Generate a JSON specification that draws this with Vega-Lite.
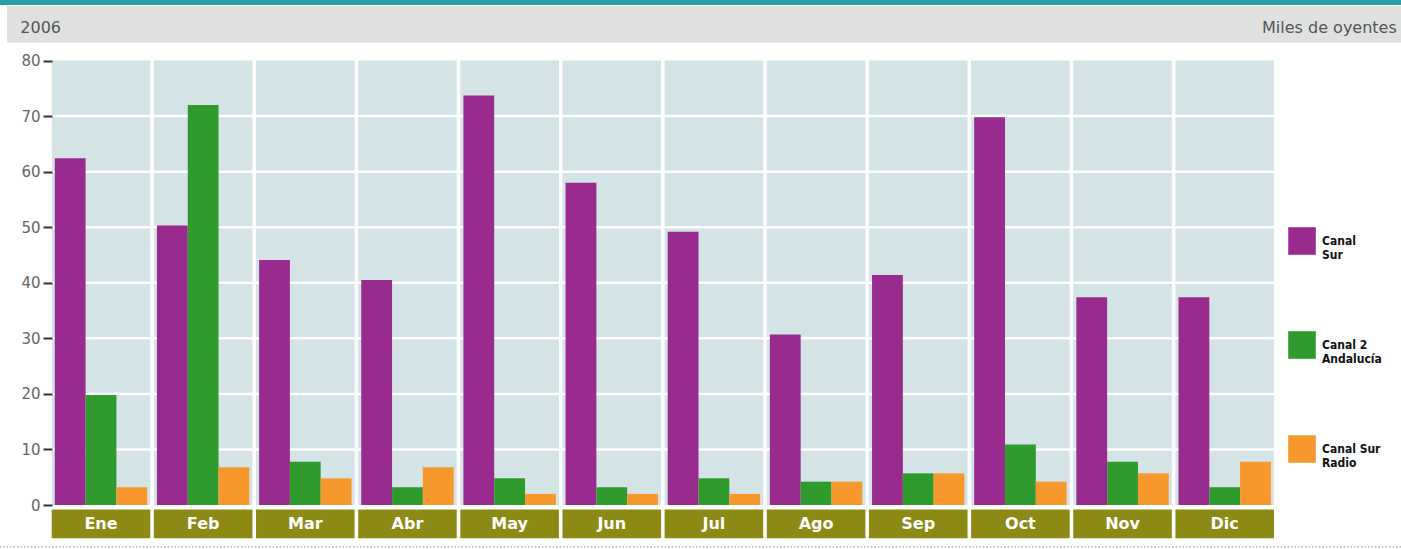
{
  "$schema": "https://vega.github.io/schema/vega-lite/v6.json",
  "width": 1401,
  "height": 549,
  "padding": 0,
  "autosize": {"type": "none"},
  "background": "#ffffff",
  "config": {"view": {"stroke": null}},
  "datasets": {
    "months": [
      {"month": "Ene"}, {"month": "Feb"}, {"month": "Mar"}, {"month": "Abr"},
      {"month": "May"}, {"month": "Jun"}, {"month": "Jul"}, {"month": "Ago"},
      {"month": "Sep"}, {"month": "Oct"}, {"month": "Nov"}, {"month": "Dic"}
    ],
    "grid": [{"v": 10}, {"v": 20}, {"v": 30}, {"v": 40}, {"v": 50}, {"v": 60}, {"v": 70}],
    "bars": [
      {"month": "Ene", "canal": "Canal Sur", "oyentes": 62.4},
      {"month": "Ene", "canal": "Canal 2 Andalucía", "oyentes": 19.8},
      {"month": "Ene", "canal": "Canal Sur Radio", "oyentes": 3.2},
      {"month": "Feb", "canal": "Canal Sur", "oyentes": 50.3},
      {"month": "Feb", "canal": "Canal 2 Andalucía", "oyentes": 72.0},
      {"month": "Feb", "canal": "Canal Sur Radio", "oyentes": 6.8},
      {"month": "Mar", "canal": "Canal Sur", "oyentes": 44.1},
      {"month": "Mar", "canal": "Canal 2 Andalucía", "oyentes": 7.8},
      {"month": "Mar", "canal": "Canal Sur Radio", "oyentes": 4.8},
      {"month": "Abr", "canal": "Canal Sur", "oyentes": 40.5},
      {"month": "Abr", "canal": "Canal 2 Andalucía", "oyentes": 3.2},
      {"month": "Abr", "canal": "Canal Sur Radio", "oyentes": 6.8},
      {"month": "May", "canal": "Canal Sur", "oyentes": 73.7},
      {"month": "May", "canal": "Canal 2 Andalucía", "oyentes": 4.8},
      {"month": "May", "canal": "Canal Sur Radio", "oyentes": 2.0},
      {"month": "Jun", "canal": "Canal Sur", "oyentes": 58.0},
      {"month": "Jun", "canal": "Canal 2 Andalucía", "oyentes": 3.2},
      {"month": "Jun", "canal": "Canal Sur Radio", "oyentes": 2.0},
      {"month": "Jul", "canal": "Canal Sur", "oyentes": 49.2},
      {"month": "Jul", "canal": "Canal 2 Andalucía", "oyentes": 4.8},
      {"month": "Jul", "canal": "Canal Sur Radio", "oyentes": 2.0},
      {"month": "Ago", "canal": "Canal Sur", "oyentes": 30.7},
      {"month": "Ago", "canal": "Canal 2 Andalucía", "oyentes": 4.2},
      {"month": "Ago", "canal": "Canal Sur Radio", "oyentes": 4.2},
      {"month": "Sep", "canal": "Canal Sur", "oyentes": 41.4},
      {"month": "Sep", "canal": "Canal 2 Andalucía", "oyentes": 5.7},
      {"month": "Sep", "canal": "Canal Sur Radio", "oyentes": 5.7},
      {"month": "Oct", "canal": "Canal Sur", "oyentes": 69.8},
      {"month": "Oct", "canal": "Canal 2 Andalucía", "oyentes": 10.9},
      {"month": "Oct", "canal": "Canal Sur Radio", "oyentes": 4.2},
      {"month": "Nov", "canal": "Canal Sur", "oyentes": 37.4},
      {"month": "Nov", "canal": "Canal 2 Andalucía", "oyentes": 7.8},
      {"month": "Nov", "canal": "Canal Sur Radio", "oyentes": 5.7},
      {"month": "Dic", "canal": "Canal Sur", "oyentes": 37.4},
      {"month": "Dic", "canal": "Canal 2 Andalucía", "oyentes": 3.2},
      {"month": "Dic", "canal": "Canal Sur Radio", "oyentes": 7.8}
    ]
  },
  "layer": [
    {
      "layer": [
        {
          "data": {"values": [{"band": "header"}]},
          "mark": {"type": "rect", "fill": "#dfe1e1"},
          "encoding": {
            "x": {"datum": 0.005, "type": "quantitative", "scale": {"domain": [0, 1], "nice": false, "zero": false}, "axis": null},
            "x2": {"datum": 1},
            "y": {"datum": 89.8, "type": "quantitative", "title": null},
            "y2": {"datum": 83.2}
          }
        },
        {
          "data": {"values": [{"label": "2006"}]},
          "mark": {"type": "text", "align": "left", "baseline": "middle", "font": "DejaVu Sans", "fontSize": 16, "fill": "#555555"},
          "encoding": {
            "x": {"datum": 0.0145, "type": "quantitative", "axis": null},
            "y": {"datum": 85.9, "type": "quantitative", "title": null},
            "text": {"field": "label"}
          }
        },
        {
          "data": {"values": [{"label": "Miles de oyentes"}]},
          "mark": {"type": "text", "align": "right", "baseline": "middle", "font": "DejaVu Sans", "fontSize": 16, "fill": "#555555"},
          "encoding": {
            "x": {"datum": 0.997, "type": "quantitative", "axis": null},
            "y": {"datum": 85.9, "type": "quantitative", "title": null},
            "text": {"field": "label"}
          }
        }
      ]
    },
    {
      "layer": [
        {
          "data": {"values": [{"band": "top"}]},
          "mark": {"type": "rule", "stroke": "#2aa0a6", "strokeWidth": 5},
          "encoding": {"y": {"datum": 90.45, "type": "quantitative", "title": null}}
        },
        {
          "data": {"values": [{"band": "bottom"}]},
          "mark": {"type": "rule", "stroke": "#b8b8b8", "strokeWidth": 1.5, "strokeDash": [1.5, 2]},
          "encoding": {"y": {"datum": -7.5, "type": "quantitative", "title": null}}
        },
        {
          "data": {"name": "months"},
          "mark": {"type": "rect", "fill": "#d3e3e6"},
          "encoding": {
            "x": {"field": "month", "type": "nominal", "sort": null, "axis": null,
                  "scale": {"range": [51.7, 1274], "paddingInner": 0.035, "paddingOuter": 0}},
            "y": {"datum": 0, "type": "quantitative", "title": null},
            "y2": {"datum": 80}
          }
        },
        {
          "data": {"name": "grid"},
          "mark": {"type": "rule", "stroke": "#ffffff", "strokeWidth": 2.5},
          "encoding": {"y": {"field": "v", "type": "quantitative", "title": null}}
        },
        {
          "data": {"name": "bars"},
          "mark": {"type": "bar"},
          "encoding": {
            "x": {"field": "month", "type": "nominal", "sort": null, "axis": null,
                  "scale": {"range": [51.7, 1274], "paddingInner": 0.035, "paddingOuter": 0}},
            "xOffset": {"field": "canal", "type": "nominal", "sort": ["Canal Sur", "Canal 2 Andalucía", "Canal Sur Radio"],
                        "scale": {"paddingInner": 0, "paddingOuter": 0.1}},
            "y": {"field": "oyentes", "type": "quantitative", "title": null,
                  "scale": {"domain": [0, 80], "range": [505, 60.5], "nice": false, "zero": false},
                  "axis": {"values": [0, 10, 20, 30, 40, 50, 60, 70, 80], "offset": -52, "domain": false, "grid": false, "zindex": 1,
                           "tickSize": 9, "tickWidth": 2, "tickColor": "#333333", "labelPadding": 3,
                           "labelFont": "DejaVu Sans", "labelFontSize": 15, "labelColor": "#666666"}},
            "color": {"field": "canal", "type": "nominal",
                      "scale": {"domain": ["Canal Sur", "Canal 2 Andalucía", "Canal Sur Radio"], "range": ["#992b8f", "#2f9b2d", "#f7982c"]},
                      "legend": {"orient": "none", "legendX": 1288, "legendY": 227, "title": null, "symbolType": "square",
                                 "symbolSize": 760, "symbolStrokeWidth": 0, "symbolOpacity": 1, "rowPadding": 70,
                                 "labelFont": "DejaVu Sans Condensed", "labelFontSize": 12, "labelFontWeight": "bold",
                                 "labelColor": "#111111", "labelOffset": 6, "labelLimit": 90,
                                 "labelExpr": "datum.label == 'Canal Sur' ? ['Canal', 'Sur'] : datum.label == 'Canal 2 Andalucía' ? ['Canal 2', 'Andalucía'] : ['Canal Sur', 'Radio']"}}
          }
        },
        {
          "data": {"name": "months"},
          "mark": {"type": "rect", "fill": "#8c8a14"},
          "encoding": {
            "x": {"field": "month", "type": "nominal", "sort": null, "axis": null,
                  "scale": {"range": [51.7, 1274], "paddingInner": 0.035, "paddingOuter": 0}},
            "y": {"datum": -0.8, "type": "quantitative", "title": null},
            "y2": {"datum": -6.0}
          }
        },
        {
          "data": {"name": "months"},
          "mark": {"type": "text", "fill": "#ffffff", "font": "DejaVu Sans", "fontSize": 16, "fontWeight": "bold", "baseline": "middle"},
          "encoding": {
            "x": {"field": "month", "type": "nominal", "sort": null, "axis": null, "bandPosition": 0.5,
                  "scale": {"range": [51.7, 1274], "paddingInner": 0.035, "paddingOuter": 0}},
            "y": {"datum": -3.4, "type": "quantitative", "title": null},
            "text": {"field": "month"}
          }
        }
      ]
    }
  ],
  "resolve": {"scale": {"x": "independent"}}
}
